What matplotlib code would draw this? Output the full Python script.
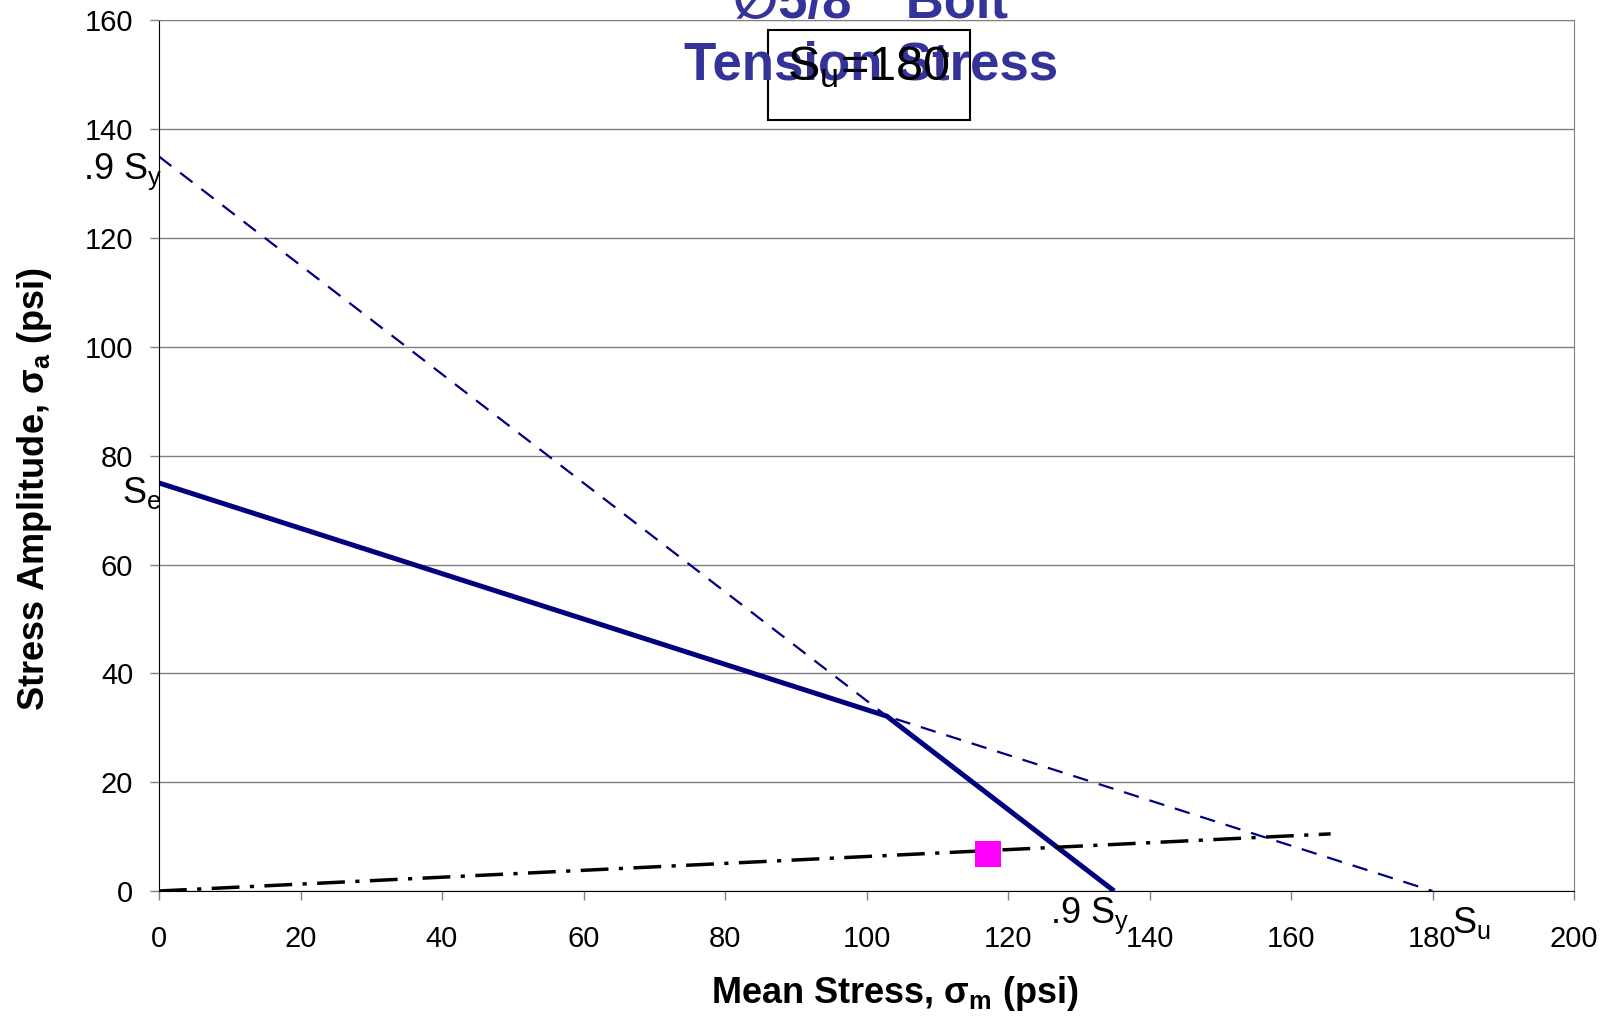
import matplotlib.pyplot as plt
from matplotlib.patches import Rectangle

plt.rcParams['font.family'] = ['Liberation Sans', 'DejaVu Sans']

# Goodman / yield data (psi)
Su = 180
Sy9 = 135
Se = 75
yieldX = [0, Sy9]
yieldY = [Sy9, 0]
goodX = [0, Su]
goodY = [Se, 0]
safeX = [0, 102.86, Sy9]
safeY = [Se, 32.14, 0]
loadX = [0, 165.6]
loadY = [0, 10.5]
ptX = [117.2]
ptY = [6.8]
xticks = [0, 20, 40, 60, 80, 100, 120, 140, 160, 180, 200]
yticks = [0, 20, 40, 60, 80, 100, 120, 140, 160]

navy = '#000080'
W, H = 1612, 1018
fig = plt.figure(figsize=(W/100, H/100), dpi=100)
ax = fig.add_axes([159/W, 1 - 891/H, 1415/W, 870.5/H])

ax.plot(yieldX, yieldY, color=navy, lw=1.6, dashes=(7, 5))
ax.plot(goodX, goodY, color=navy, lw=1.6, dashes=(7, 5))
ax.plot(safeX, safeY, color=navy, lw=3.6, solid_capstyle='butt')
ax.plot(loadX, loadY, color='black', lw=2.5, dashes=(8, 3, 1.2, 3))
ax.plot(ptX, ptY, 's', color='#FF00FF', ms=18.5, mew=0, zorder=5)

ax.set_xlim(0, 200)
ax.set_ylim(0, 160)
ax.set_xticks(xticks)
ax.set_yticks(yticks)
ax.tick_params(labelsize=21, length=6.5, direction='out', width=1, color='#808080')
ax.tick_params(axis='x', pad=18)
ax.tick_params(axis='y', pad=12)
ax.yaxis.grid(True, color='#808080', lw=1)
ax.set_axisbelow(True)
ax.spines['left'].set_color('black')
ax.spines['bottom'].set_color('black')
ax.spines['top'].set_color('#808080')
ax.spines['right'].set_color('#808080')

ax.set_xlabel(r'Mean Stress, $\mathregular{\sigma_m}$ (psi)', fontsize=26, fontweight='bold')
ax.set_ylabel(r'Stress Amplitude, $\mathregular{\sigma_a}$ (psi)', fontsize=26, fontweight='bold')
ax.xaxis.label.set_va('center')
ax.yaxis.label.set_va('center')
ax.xaxis.set_label_coords(0.52, -0.118)
ax.yaxis.set_label_coords(-0.088, 0.462)

# point labels
ax.text(0.4, 130.8, r'.9 S$\mathregular{_y}$', fontsize=26, ha='right', va='baseline')
ax.text(0.4, 71.3, r'S$\mathregular{_e}$', fontsize=26, ha='right', va='baseline')
ax.text(125.9, -5.9, r'.9 S$\mathregular{_y}$', fontsize=26, ha='left', va='baseline')
ax.text(182.7, -7.7, r'S$\mathregular{_u}$', fontsize=26, ha='left', va='baseline')

# title
fig.text(871/W, 1 - 4/H, '\u22055/8"  Bolt', fontsize=38, fontweight='bold',
         color='#333399', ha='center', va='center')
fig.text(871/W, 1 - 65/H, 'Tension Stress', fontsize=38, fontweight='bold',
         color='#333399', ha='center', va='center')

# Su box
fig.patches.append(Rectangle((768/W, 1 - 120/H), 202/W, 90/H, transform=fig.transFigure,
                             fill=False, ec='black', lw=1.5))
fig.text(868/W, 1 - 67/H, r'S$\mathregular{_u}$=180', fontsize=35, ha='center', va='center')

fig.savefig('out.png', dpi=100)
